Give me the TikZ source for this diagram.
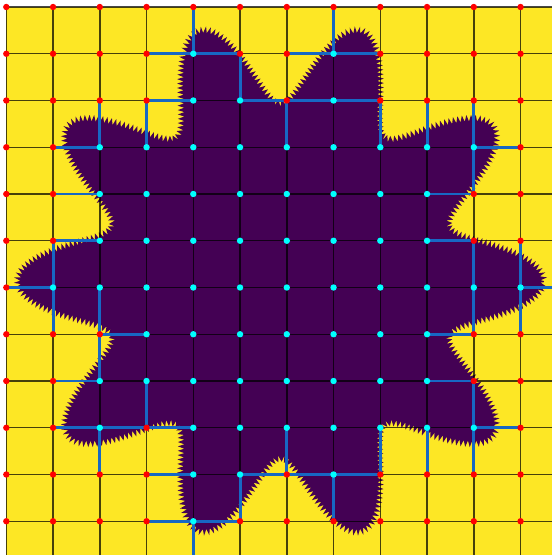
\documentclass[tikz,border=0pt]{standalone}
\usetikzlibrary{decorations.pathmorphing}
\definecolor{vyel}{HTML}{FDE725}
\definecolor{vpur}{HTML}{440154}
\definecolor{cblue}{HTML}{1768C4}
\definecolor{dotred}{HTML}{FF0000}
\definecolor{dotcyan}{HTML}{00FFFF}
\tikzset{
  gridline/.style={black, opacity=0.72, line width=1.4pt},
  bdry/.style={cblue, line width=2.9pt, line cap=rect},
  indot/.style={fill=dotcyan},
  outdot/.style={fill=dotred},
  blob/.style={fill=vpur, decorate, decoration={zigzag, segment length=4.4pt, amplitude=3.3pt}},
}
% grid points inside the shape (column-row)
\foreach \p in {4-1,7-1,4-2,5-2,7-2,2-9,4-10,5-10,7-10,4-11}{\expandafter\gdef\csname cy-\p\endcsname{}}
\foreach \j/\a/\b in {3/2/10,4/2/9,5/2/9,6/1/11,7/3/9,8/2/9,9/4/10}{%
  \foreach \i in {\a,...,\b}{\expandafter\gdef\csname cy-\i-\j\endcsname{}}}
\begin{document}
\begin{tikzpicture}[x=1pt,y=-1pt]
\useasboundingbox (0,0) rectangle (552,555);
\clip (0,0) rectangle (552,555);
\fill[vyel] (6.3,7) rectangle (552,555);
% shape
\fill[blob] plot[domain=0:360, samples=721, variable=\t]
  ({280.5+(220.5+43*cos(10*\t))*cos(\t)}, {281-(220.5+43*cos(10*\t))*sin(\t)}) -- cycle;
% grid points
\foreach \i in {0,...,12}{\foreach \j in {0,...,12}{
  \coordinate (p-\i-\j) at ({6.3+46.75*\i},{7+46.75*\j});}}
% grid lines
\foreach \i in {0,...,12}{
  \draw[gridline] (p-\i-0) -- (p-\i-12);
  \draw[gridline] (p-0-\i) -- (p-12-\i);}
% staircase boundary: edges joining an inside and an outside point
\foreach \i [evaluate=\i as \k using int(\i+1)] in {0,...,11}{\foreach \j in {0,...,12}{
  \ifcsname cy-\i-\j\endcsname\def\ina{1}\else\def\ina{0}\fi
  \ifcsname cy-\k-\j\endcsname\def\inb{1}\else\def\inb{0}\fi
  \ifnum\ina=\inb\relax\else\draw[bdry] (p-\i-\j) -- (p-\k-\j);\fi
  \ifcsname cy-\j-\i\endcsname\def\ina{1}\else\def\ina{0}\fi
  \ifcsname cy-\j-\k\endcsname\def\inb{1}\else\def\inb{0}\fi
  \ifnum\ina=\inb\relax\else\draw[bdry] (p-\j-\i) -- (p-\j-\k);\fi
}}
% dots
\foreach \i in {0,...,12}{\foreach \j in {0,...,12}{
  \ifcsname cy-\i-\j\endcsname
    \fill[indot] (p-\i-\j) circle[radius=3.2pt];
  \else
    \fill[outdot] (p-\i-\j) circle[radius=3.2pt];
  \fi}}
\end{tikzpicture}
\end{document}
